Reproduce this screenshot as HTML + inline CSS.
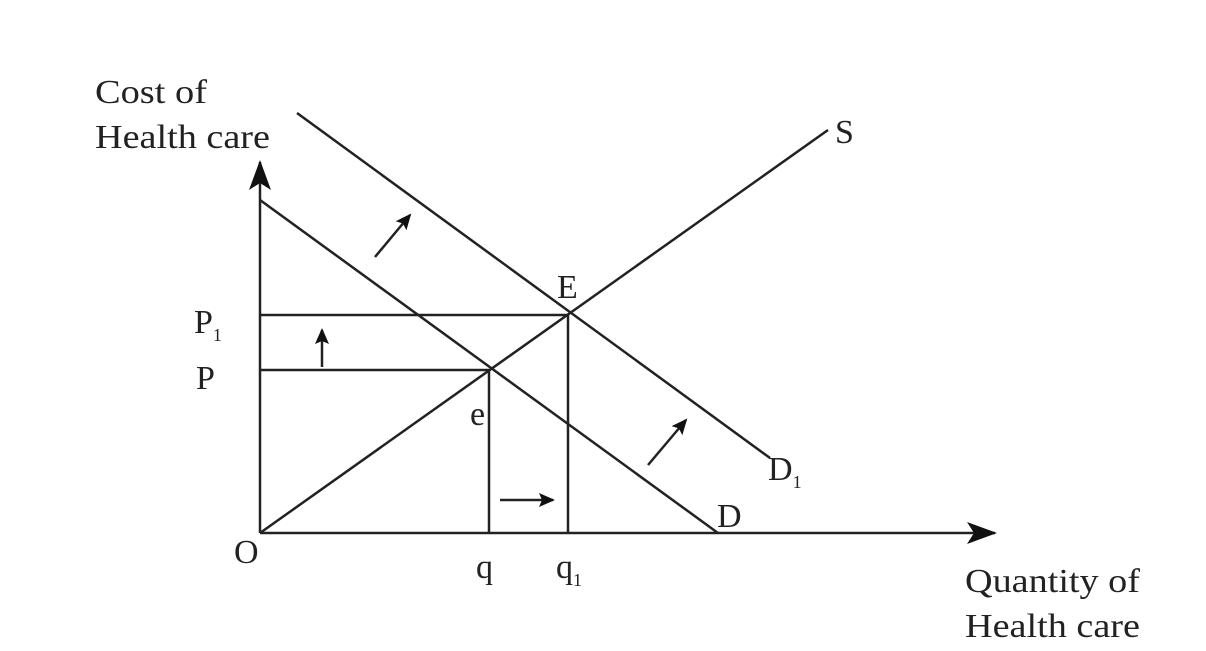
<!DOCTYPE html>
<html><head><meta charset="utf-8"><style>
html,body{margin:0;padding:0;background:#fff;}
svg{display:block;}
text{font-family:"Liberation Serif",serif;fill:#222;}
</style></head><body>
<svg width="1206" height="651" viewBox="0 0 1206 651" xmlns="http://www.w3.org/2000/svg">
<defs>
<marker id="ah" markerWidth="16" markerHeight="14" refX="14" refY="7" orient="auto" markerUnits="userSpaceOnUse">
<path d="M0,0 L16,7 L0,14 L3,7 Z" fill="#111"/></marker>
<marker id="big" markerWidth="30" markerHeight="22" refX="28" refY="11" orient="auto" markerUnits="userSpaceOnUse">
<path d="M0,0 L30,11 L0,22 L7,11 Z" fill="#111"/></marker>
</defs>
<g stroke="#222" stroke-width="2.5" fill="none">
<line x1="260" y1="533" x2="260" y2="162" marker-end="url(#big)"/>
<line x1="260" y1="533" x2="995" y2="533" marker-end="url(#big)"/>
<line x1="260" y1="200" x2="718" y2="533"/>
<line x1="297" y1="113" x2="770" y2="458"/>
<line x1="260" y1="533" x2="828" y2="130"/>
<line x1="260" y1="315" x2="568" y2="315"/>
<line x1="568" y1="315" x2="568" y2="533"/>
<line x1="260" y1="370" x2="489" y2="370"/>
<line x1="489" y1="370" x2="489" y2="533"/>
<line x1="375" y1="257" x2="410" y2="215" marker-end="url(#ah)"/>
<line x1="322" y1="367" x2="322" y2="330" marker-end="url(#ah)"/>
<line x1="500" y1="500" x2="553" y2="500" marker-end="url(#ah)"/>
<line x1="648" y1="465" x2="686" y2="420" marker-end="url(#ah)"/>
</g>
<g font-size="34">
<text x="95" y="103" textLength="112" lengthAdjust="spacingAndGlyphs">Cost of</text>
<text x="95" y="148" textLength="175" lengthAdjust="spacingAndGlyphs">Health care</text>
<text x="835" y="143">S</text>
<text x="557" y="298">E</text>
<text x="470" y="425">e</text>
<text x="717" y="527">D</text>
<text x="768" y="480">D<tspan font-size="18" dy="8">1</tspan></text>
<text x="234" y="563">O</text>
<text x="476" y="578">q</text>
<text x="556" y="578">q<tspan font-size="18" dy="8">1</tspan></text>
<text x="194" y="333">P<tspan font-size="18" dy="8">1</tspan></text>
<text x="196" y="389">P</text>
<text x="965" y="592" textLength="175" lengthAdjust="spacingAndGlyphs">Quantity of</text>
<text x="965" y="637" textLength="175" lengthAdjust="spacingAndGlyphs">Health care</text>
</g>
</svg>
</body></html>
